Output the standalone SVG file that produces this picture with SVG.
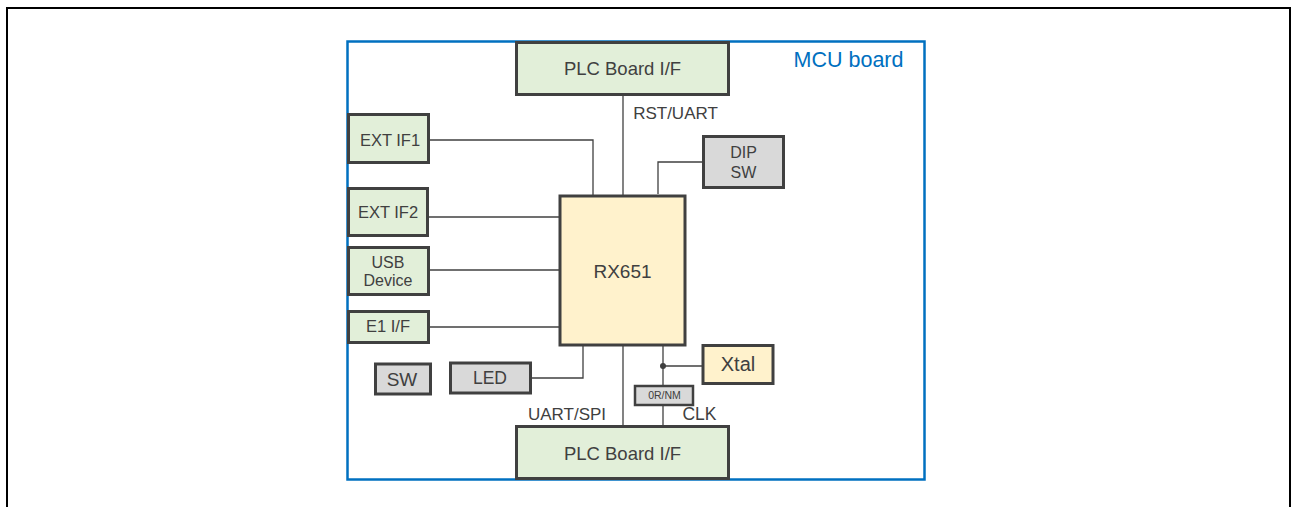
<svg xmlns="http://www.w3.org/2000/svg" width="1294" height="507" viewBox="0 0 1294 507">
<style>
.t{font-family:"Liberation Sans",Arial,sans-serif;fill:#404040;text-anchor:middle}
.g rect{fill:#E2EFD9;stroke:#404040;stroke-width:3}
.gy rect{fill:#D9D9D9;stroke:#404040;stroke-width:3}
.y rect{fill:#FFF2CC;stroke:#404040;stroke-width:3}
.c{fill:none;stroke:#404040;stroke-width:1.3}
</style>
<rect width="1294" height="507" fill="#fff"/>
<path d="M7,507 V8 H1290 V507" fill="none" stroke="#000" stroke-width="2"/>
<g id="mcu-board">
<rect x="347.5" y="41.5" width="577" height="438" fill="none" stroke="#0070C0" stroke-width="2.5"/>
<text x="848.5" y="67" class="t" style="fill:#0070C0;font-size:21.5px">MCU board</text>
</g>
<g id="connectors">
<path class="c" d="M623,95 V196"/>
<path class="c" d="M429,140 H593 V196"/>
<path class="c" d="M703,162 H658 V194"/>
<path class="c" d="M428,217 H560"/>
<path class="c" d="M428,270 H560"/>
<path class="c" d="M429,327 H560"/>
<path class="c" d="M530,378 H583 V345"/>
<path class="c" d="M623,345 V426"/>
<path class="c" d="M663,345 V426"/>
<path class="c" d="M663,366 H703"/>
<circle cx="663" cy="366" r="3" fill="#404040"/>
</g>
<g id="plc-top" class="g"><rect x="516.5" y="42.5" width="212" height="52"/><text x="622.5" y="75" class="t" style="font-size:18.5px">PLC Board I/F</text></g>
<text x="675.5" y="119" class="t" style="font-size:17px">RST/UART</text>
<g id="ext-if1" class="g"><rect x="348.5" y="114.5" width="80" height="48"/><text x="390" y="146" class="t" style="font-size:16.5px">EXT IF1</text></g>
<g id="dip-sw" class="gy"><rect x="703.5" y="136.5" width="80" height="51"/><text x="743.5" y="158" class="t" style="font-size:16px">DIP</text><text x="743.5" y="178" class="t" style="font-size:16px">SW</text></g>
<g id="ext-if2" class="g"><rect x="348.5" y="188.5" width="79" height="47"/><text x="388" y="218" class="t" style="font-size:16.5px">EXT IF2</text></g>
<g id="usb-device" class="g"><rect x="348.5" y="247.5" width="80" height="47"/><text x="388" y="268" class="t" style="font-size:16px">USB</text><text x="388" y="286" class="t" style="font-size:16px">Device</text></g>
<g id="e1-if" class="g"><rect x="348.5" y="311.5" width="80" height="31"/><text x="388" y="332" class="t" style="font-size:16.5px">E1 I/F</text></g>
<g id="rx651" class="y"><rect x="560" y="196" width="125" height="149"/><text x="622.5" y="278" class="t" style="font-size:19px">RX651</text></g>
<g id="sw" class="gy"><rect x="375.5" y="364" width="55" height="30"/><text x="402" y="386" class="t" style="font-size:19px">SW</text></g>
<g id="led" class="gy"><rect x="450.5" y="363" width="80" height="30"/><text x="490" y="384" class="t" style="font-size:17.5px">LED</text></g>
<g id="xtal" class="y"><rect x="703" y="345.5" width="70" height="38"/><text x="738" y="371" class="t" style="font-size:20px">Xtal</text></g>
<g id="r-0rnm" class="gy"><rect x="635" y="386" width="58" height="19" style="stroke-width:2.5"/><text x="664.5" y="399" class="t" style="font-size:10.5px">0R/NM</text></g>
<text x="567" y="420" class="t" style="font-size:17px">UART/SPI</text>
<text x="699.5" y="420" class="t" style="font-size:17.5px">CLK</text>
<g id="plc-bottom" class="g"><rect x="516.5" y="426.5" width="212" height="52"/><text x="622.5" y="460" class="t" style="font-size:18.5px">PLC Board I/F</text></g>
</svg>
